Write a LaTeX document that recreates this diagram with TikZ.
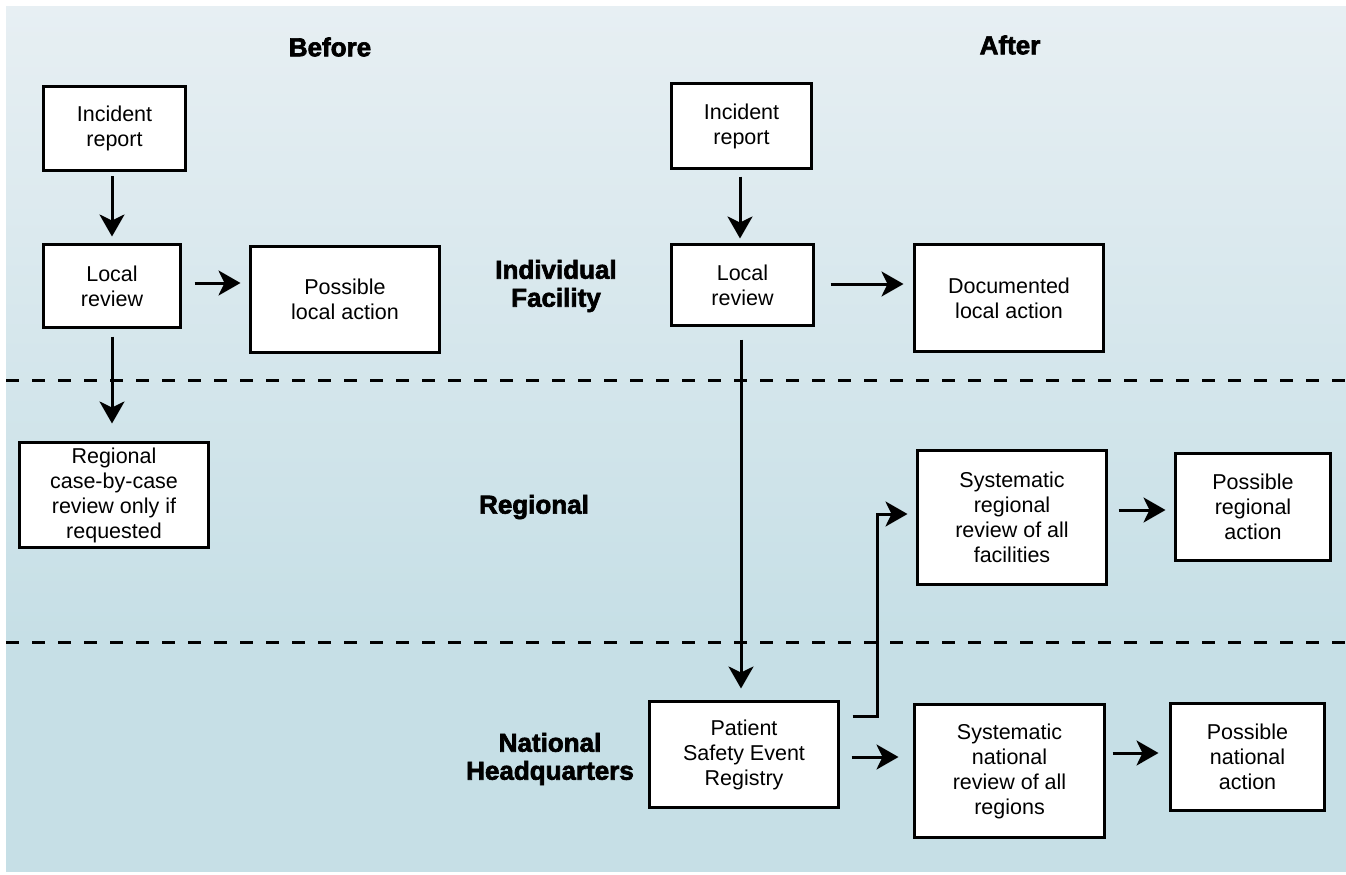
\documentclass[tikz,border=0pt]{standalone}
\usepackage{fontspec}
\setmainfont{Liberation Sans}
\newfontfamily\headfont{Liberation Sans}[BoldFeatures={FakeBold=2.5}]
\usetikzlibrary{arrows.meta,calc}
\definecolor{bgtop}{HTML}{E7EFF3}
\definecolor{bgbot}{HTML}{C6DFE6}
\tikzset{
  box/.style={draw=black, line width=3pt, fill=white, align=center, inner sep=2pt,
    font=\fontsize{21.5}{25}\selectfont},
  arr/.style={line width=3pt, -{Stealth[length=22pt,width=25pt,inset=6pt]}},
  head/.style={align=center, font=\headfont\fontsize{26}{28}\selectfont\bfseries},
  sep/.style={line width=3pt, dash pattern=on 13pt off 13pt},
}
\begin{document}
\begin{tikzpicture}[x=1pt,y=-1pt]
\useasboundingbox (0,0) rectangle (1346,875);
\shade[top color=bgtop, bottom color=bgbot] (6,7) rectangle (1346,640);
\fill[bgbot] (6,639) rectangle (1346,872);
\draw[sep] (6,380) -- (1346,380);
\draw[sep] (6,642) -- (1346,642);

\node[head] (hBefore) at (330,47) {Before};
\node[head] (hAfter) at (1010,45) {After};
\node[head] (hInd) at (556,286) {Individual\\Facility};
\node[head] (hReg) at (534,507) {Regional};
\node[head] (hNat) at (550,759) {National\\Headquarters};

\node[box, minimum width=142, minimum height=84] (bInc) at (114.5,128.5) {Incident\\report};
\node[box, minimum width=137, minimum height=83] (bLoc) at (112,286) {Local\\review};
\node[box, minimum width=189, minimum height=106] (bPos) at (345,299.5) {Possible\\local action};
\node[box, minimum width=189, minimum height=105] (bReg) at (114,495) {Regional\\case-by-case\\review only if\\requested};

\node[box, minimum width=140, minimum height=85] (aInc) at (741.5,126) {Incident\\report};
\node[box, minimum width=142, minimum height=81] (aLoc) at (742.5,285) {Local\\review};
\node[box, minimum width=189, minimum height=107] (aDoc) at (1009,298) {Documented\\local action};
\node[box, minimum width=189, minimum height=106] (aPse) at (744,754.5) {Patient\\Safety Event\\Registry};
\node[box, minimum width=189, minimum height=134] (aSysR) at (1012,517.5) {Systematic\\regional\\review of all\\facilities};
\node[box, minimum width=155, minimum height=107] (aPosR) at (1253,507) {Possible\\regional\\action};
\node[box, minimum width=190, minimum height=133] (aSysN) at (1009.5,771) {Systematic\\national\\review of all\\regions};
\node[box, minimum width=154, minimum height=107] (aPosN) at (1247.5,757) {Possible\\national\\action};

\draw[arr] ($(bInc.south)+(-2.5,4)$) -- ($(bLoc.north)+(0,-6.5)$);
\draw[arr] ($(bLoc.east)+(12.5,-3)$) -- ($(bPos.west)+(-8.5,-16.5)$);
\draw[arr] ($(bLoc.south)+(0,7.5)$) -- ($(bReg.north)+(-2,-17.5)$);

\draw[arr] ($(aInc.south)+(-1.5,6.5)$) -- ($(aLoc.north)+(-2.5,-4.5)$);
\draw[arr] ($(aLoc.east)+(15.5,-1)$) -- ($(aDoc.west)+(-9.5,-14)$);
\draw[arr] ($(aLoc.south)+(-1.5,12.5)$) -- ($(aPse.north)+(-3,-11.5)$);
\draw[arr] ($(aPse.east)+(12.5,-38.5)$) -- ++(25,0) |- ($(aSysR.west)+(-8.5,-3.5)$);
\draw[arr] ($(aPse.east)+(11.5,2.5)$) -- ($(aSysN.west)+(-14.5,-14)$);
\draw[arr] ($(aSysR.east)+(10.5,-7.5)$) -- ($(aPosR.west)+(-8.5,3)$);
\draw[arr] ($(aSysN.east)+(6.5,-18)$) -- ($(aPosN.west)+(-10.5,-4)$);
\end{tikzpicture}
\end{document}
